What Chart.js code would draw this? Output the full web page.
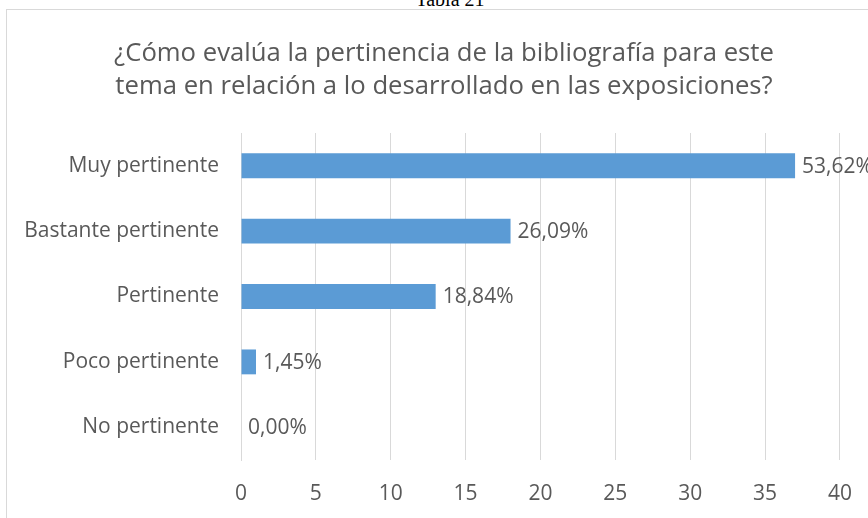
<!DOCTYPE html>
<html>
<head>
<meta charset="utf-8">
<script src="https://cdn.jsdelivr.net/npm/chart.js@4"></script>
<style>
  html, body { margin: 0; padding: 0; background: #fff; overflow: hidden; }
  #caption {
    position: absolute; left: 0; top: -12px; width: 900px; text-align: center;
    font-family: "Liberation Serif", serif; font-size: 20px; color: #000;
  }
  #box {
    position: absolute; left: 6px; top: 9px; width: 900px; height: 540px;
    border: 1px solid #d9d9d9; box-sizing: border-box; background: #fff;
  }
  #chart { position: absolute; left: 0; top: 0; }
  #title {
    position: absolute; left: -6px; top: 25px; width: 886px; text-align: center;
    font-family: "Open Sans", sans-serif; font-size: 25.7px; line-height: 33.4px;
    color: #595959;
  }
</style>
</head>
<body>
<div id="caption">Tabla 21</div>
<div id="box">
  <canvas id="chart" width="866" height="509"></canvas>
  <div id="title">¿Cómo evalúa la pertinencia de la bibliografía para este<br>tema en relación a lo desarrollado en las exposiciones?</div>
</div>
<script>
// categorías y respuestas (cantidad de personas)
const categories = ["Muy pertinente", "Bastante pertinente", "Pertinente", "Poco pertinente", "No pertinente"];
const counts = [37, 18, 13, 1, 0];
const percentLabels = ["53,62%", "26,09%", "18,84%", "1,45%", "0,00%"];
const xTicks = [0, 5, 10, 15, 20, 25, 30, 35, 40];

const gray = "#595959";
const font = "'Open Sans', 'Liberation Sans', sans-serif";

// etiquetas de porcentaje a la derecha de cada barra
const valueLabels = {
  id: "valueLabels",
  afterDatasetsDraw(chart) {
    const ctx = chart.ctx;
    const meta = chart.getDatasetMeta(0);
    ctx.save();
    ctx.font = "21px " + font;
    ctx.fillStyle = gray;
    ctx.textBaseline = "middle";
    meta.data.forEach((bar, i) => {
      ctx.fillText(percentLabels[i], bar.x + 7, bar.y + 1);
    });
    ctx.restore();
  }
};

new Chart(document.getElementById("chart"), {
  type: "bar",
  data: {
    labels: categories,
    datasets: [{
      data: counts,
      backgroundColor: "#5b9bd5",
      barPercentage: 0.38,
      categoryPercentage: 1
    }]
  },
  options: {
    indexAxis: "y",
    responsive: false,
    animation: false,
    layout: { padding: { left: 0, right: 14, top: 123, bottom: 0 } },
    plugins: {
      legend: { display: false },
      tooltip: { enabled: false },
      title: { display: false }
    },
    scales: {
      x: {
        min: 0,
        max: 40,
        afterBuildTicks(scale) { scale.ticks = xTicks.map(v => ({ value: v })); },
        afterFit(scale) { scale.height = 59; },
        grid: { color: "#d9d9d9", drawTicks: false },
        border: { display: false },
        ticks: { color: gray, font: { family: font, size: 21 }, padding: 21 }
      },
      y: {
        afterFit(scale) { scale.width = 234; },
        grid: { display: false },
        border: { color: "#d9d9d9" },
        ticks: { color: gray, font: { family: font, size: 21 }, padding: 14 }
      }
    }
  },
  plugins: [valueLabels]
});
</script>
</body>
</html>
